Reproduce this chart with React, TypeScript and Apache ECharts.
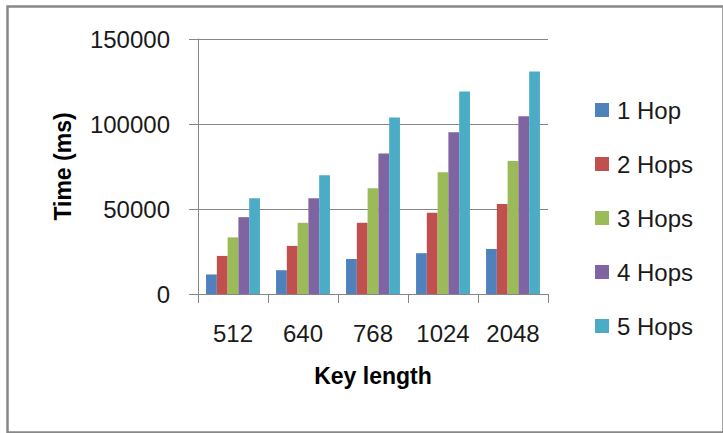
import React, { useEffect, useRef } from "react";
import * as echarts from "echarts";

// Key lengths on the x axis
const keyLengths = ["512", "640", "768", "1024", "2048"];

// Time in ms for each number of hops
const hop1 = [11500, 14000, 20600, 24000, 26500];
const hop2 = [22400, 28300, 41900, 47800, 52900];
const hop3 = [33300, 41900, 62200, 71600, 78200];
const hop4 = [45200, 56300, 82600, 95200, 104600];
const hop5 = [56300, 69800, 103800, 119100, 130900];

const seriesNames = ["1 Hop", "2 Hops", "3 Hops", "4 Hops", "5 Hops"];
const seriesData = [hop1, hop2, hop3, hop4, hop5];
const colors = ["#4F81BD", "#C0504D", "#9BBB59", "#8064A2", "#4BACC6"];

const FONT = "Liberation Sans";
const GRAY = "#868686";
const TEXT = "#1a1a1a";

export default function App() {
  const ref = useRef<HTMLDivElement>(null);

  useEffect(() => {
    document.body.style.margin = "0";
    const chart = echarts.init(ref.current!, undefined, { renderer: "svg" });
    chart.setOption({
      animation: false,
      backgroundColor: "#ffffff",
      color: colors,
      textStyle: { fontFamily: FONT, color: TEXT },
      graphic: [
        {
          type: "rect",
          left: 5,
          top: 4,
          shape: { x: 0, y: 0, width: 716, height: 426 },
          style: { fill: "none", stroke: "#888888", lineWidth: 2.5 },
          silent: true,
        },
      ],
      grid: { left: 198, right: 175, top: 39, bottom: 139 },
      legend: {
        orient: "vertical",
        left: 595,
        top: 98,
        padding: 0,
        icon: "rect",
        itemWidth: 14,
        itemHeight: 14,
        itemGap: 30,
        data: seriesNames,
        textStyle: {
          fontFamily: FONT,
          fontSize: 24,
          lineHeight: 24,
          color: TEXT,
          padding: [0, 0, 0, 3],
        },
      },
      xAxis: {
        type: "category",
        data: keyLengths,
        name: "Key length",
        nameLocation: "middle",
        nameGap: 70,
        nameTextStyle: { fontFamily: FONT, fontSize: 23, fontWeight: "bold", color: "#000" },
        axisLine: { lineStyle: { color: GRAY, width: 1 } },
        axisTick: { show: true, length: 9, lineStyle: { color: GRAY } },
        axisLabel: { fontFamily: FONT, fontSize: 24, color: TEXT, margin: 27 },
      },
      yAxis: {
        type: "value",
        min: 0,
        max: 150000,
        interval: 50000,
        name: "Time (ms)",
        nameLocation: "middle",
        nameGap: 124,
        nameRotate: 90,
        nameTextStyle: { fontFamily: FONT, fontSize: 23, fontWeight: "bold", color: "#000" },
        axisLine: { show: true, lineStyle: { color: GRAY, width: 1 } },
        axisTick: { show: true, length: 9, lineStyle: { color: GRAY } },
        axisLabel: {
          fontFamily: FONT,
          fontSize: 24,
          color: TEXT,
          margin: 28,
          formatter: (v: number) => String(v),
        },
        splitLine: { lineStyle: { color: GRAY, width: 1 } },
      },
      series: seriesNames.map((name, i) => ({
        name,
        type: "bar",
        data: seriesData[i],
        barGap: "0%",
        barCategoryGap: "23%",
        itemStyle: { color: colors[i] },
      })),
    });
    return () => chart.dispose();
  }, []);

  return (
    <div
      ref={ref}
      style={{ position: "absolute", left: 0, top: 0, width: 723, height: 433 }}
    />
  );
}
